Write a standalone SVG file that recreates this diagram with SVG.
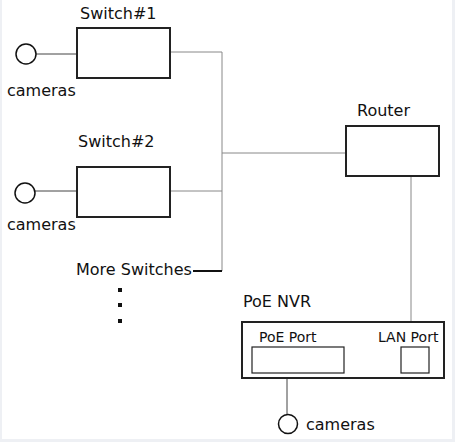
<svg xmlns="http://www.w3.org/2000/svg" width="455" height="442" viewBox="0 0 455 442">
<style>
text{font-family:"DejaVu Sans","Liberation Sans",sans-serif;fill:#111}
.lbl{font-size:16px}
.sm{font-size:14px}
.box{fill:#fff;stroke:#222;stroke-width:2}
.port{fill:#fff;stroke:#222;stroke-width:1.2}
.cam{fill:#fff;stroke:#111;stroke-width:1.5}
.wire{fill:none;stroke:#888;stroke-width:1}
.dark{fill:none;stroke:#444;stroke-width:1}
</style>
<rect width="455" height="442" fill="#eef0f4"/>
<rect x="2" y="0" width="450" height="439" fill="#fff"/>
<g id="connectors">
<path class="dark" d="M36 54H77"/>
<path class="dark" d="M35 191H77"/>
<path class="wire" d="M170 52H222V271"/>
<path class="wire" d="M170 191H222"/>
<path class="wire" d="M222 153H346"/>
<path class="wire" d="M411 176V373"/>
<path d="M193 271H222" stroke="#111" stroke-width="2" fill="none"/>
<path class="dark" d="M287 373V415"/>
</g>
<g id="switch1">
<text class="lbl" x="80" y="19">Switch#1</text>
<rect class="box" x="77" y="28" width="93" height="50"/>
</g>
<g id="cameras1">
<circle class="cam" cx="26" cy="54" r="10"/>
<text class="lbl" x="7" y="96">cameras</text>
</g>
<g id="switch2">
<text class="lbl" x="78" y="147">Switch#2</text>
<rect class="box" x="77" y="167" width="93" height="50"/>
</g>
<g id="cameras2">
<circle class="cam" cx="25" cy="193" r="10"/>
<text class="lbl" x="7" y="230">cameras</text>
</g>
<g id="more">
<text class="lbl" x="76" y="275">More Switches</text>
<rect x="118" y="288" width="4" height="4" fill="#111"/>
<rect x="118" y="303" width="4" height="4" fill="#111"/>
<rect x="118" y="319" width="4" height="4" fill="#111"/>
</g>
<g id="router">
<text class="lbl" x="357" y="116">Router</text>
<rect class="box" x="346" y="126" width="93" height="50"/>
</g>
<g id="nvr">
<text class="lbl" x="243" y="307">PoE NVR</text>
<rect class="box" x="242" y="322" width="202" height="56"/>
<text class="sm" x="259" y="342">PoE Port</text>
<rect class="port" x="252" y="347" width="92" height="26"/>
<text class="sm" x="378" y="342">LAN Port</text>
<rect class="port" x="401" y="347" width="28" height="26" fill="none" style="fill:none"/>
</g>
<g id="cameras3">
<circle class="cam" cx="288" cy="424" r="9.5"/>
<text class="lbl" x="306" y="430">cameras</text>
</g>
</svg>
